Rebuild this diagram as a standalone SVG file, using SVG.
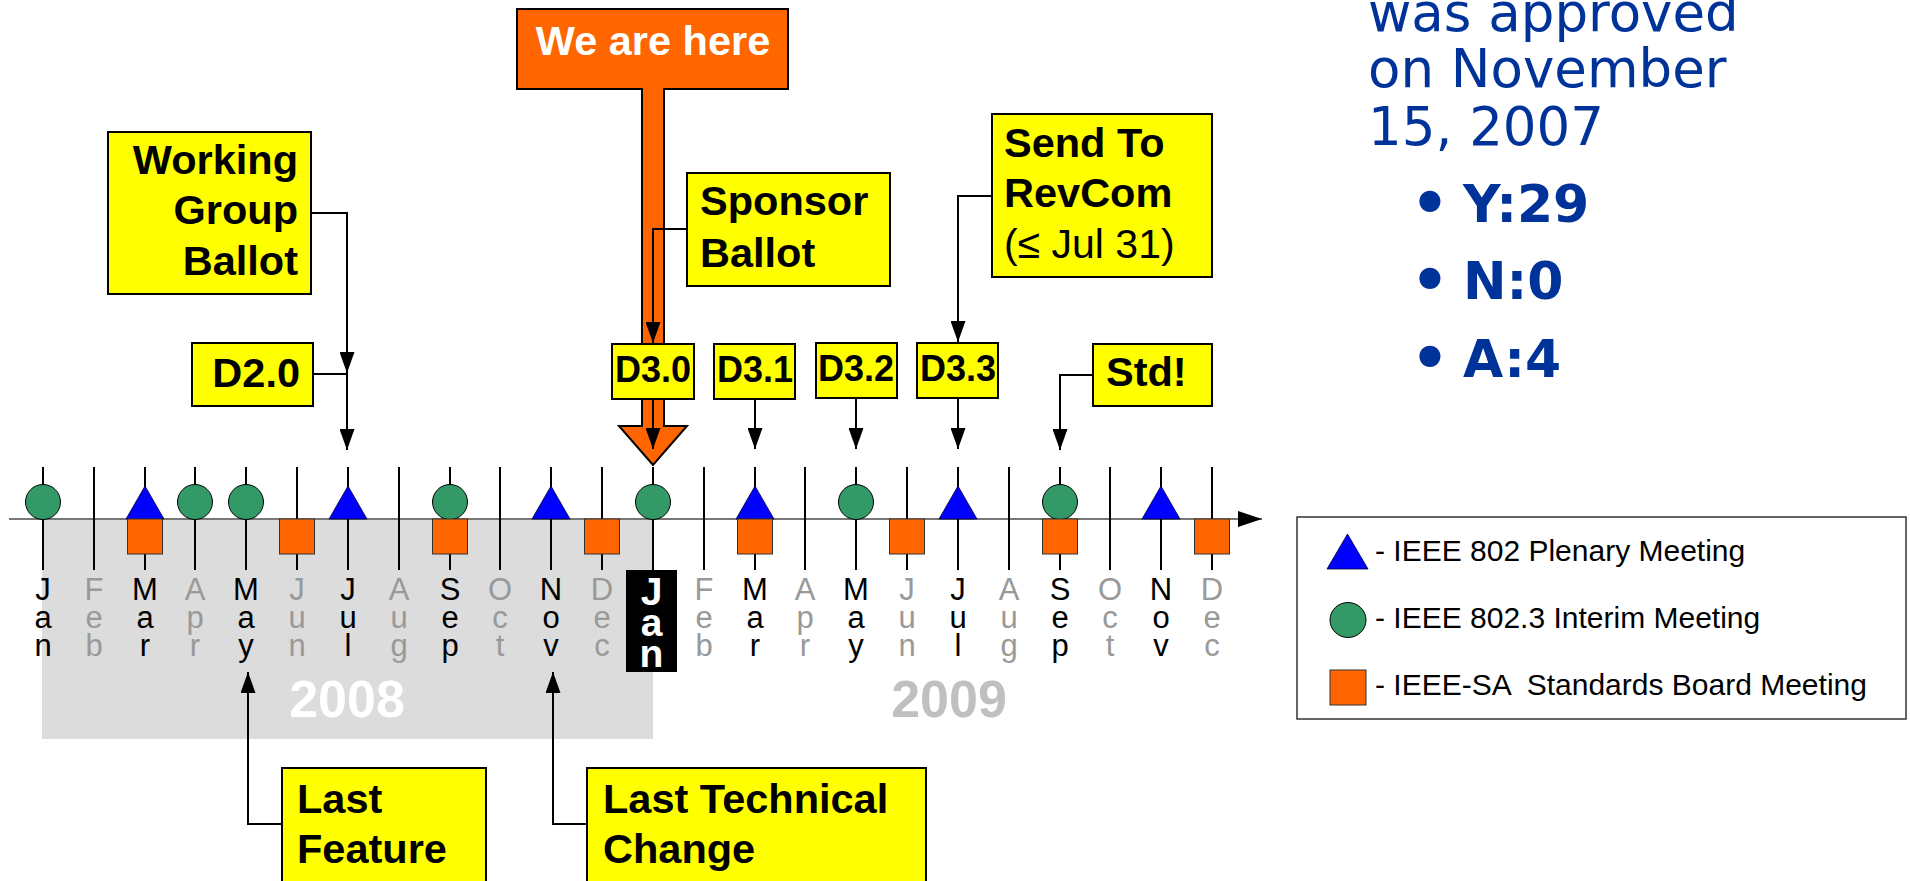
<svg xmlns="http://www.w3.org/2000/svg" width="1910" height="881" viewBox="0 0 1910 881">
<style>
  .box { fill: #FFFF00; stroke: #000; stroke-width: 2; }
  .bt { font-family: "Liberation Sans", Arial, sans-serif; font-weight: bold; font-size: 41.5px; fill: #000; }
  .dt { font-family: "Liberation Sans", Arial, sans-serif; font-weight: bold; font-size: 36px; fill: #000; text-anchor: middle; }
  .rt { font-family: "Liberation Sans", Arial, sans-serif; font-size: 41px; fill: #000; }
  .tick { stroke: #000; stroke-width: 2; }
  .conn { fill: none; stroke: #000; stroke-width: 2; }
  .circ { fill: #339966; stroke: #000; stroke-width: 1; }
  .tri { fill: #0000FF; stroke: #000033; stroke-width: 0.8; }
  .sq { fill: #FF6600; stroke: #333; stroke-width: 1; }
  .mo { font-family: "Liberation Sans", Arial, sans-serif; font-size: 31px; text-anchor: middle; }
  .on { fill: #000; }
  .off { fill: #999999; }
  .yr { font-family: "Liberation Sans", Arial, sans-serif; font-weight: bold; font-size: 52px; text-anchor: middle; }
  .leg { font-family: "Liberation Sans", Arial, sans-serif; font-size: 30px; fill: #000; white-space: pre; }
  .vote { font-family: "DejaVu Sans", Verdana, sans-serif; fill: #003399; }
</style>
<defs>
  <marker id="ah" viewBox="0 0 21 15" refX="21" refY="7.5" markerWidth="21" markerHeight="15" markerUnits="userSpaceOnUse" orient="auto">
    <path d="M0,0 L21,7.5 L0,15 Z" fill="#000"/>
  </marker>
  <marker id="axh" viewBox="0 0 24 16" refX="24" refY="8" markerWidth="24" markerHeight="16" markerUnits="userSpaceOnUse" orient="auto">
    <path d="M0,0 L24,8 L0,16 Z" fill="#000"/>
  </marker>
</defs>

<rect id="year-2008-band" x="42" y="519" width="611" height="220" fill="#DCDCDC"/>

<g id="timeline-axis">
  <line x1="9" y1="519" x2="1262" y2="519" stroke="#777" stroke-width="2" marker-end="url(#axh)"/>
</g>

<g id="ticks">
  <line class="tick" x1="43" y1="467" x2="43" y2="570"/>
  <line class="tick" x1="94" y1="467" x2="94" y2="570"/>
  <line class="tick" x1="145" y1="467" x2="145" y2="570"/>
  <line class="tick" x1="195" y1="467" x2="195" y2="570"/>
  <line class="tick" x1="246" y1="467" x2="246" y2="570"/>
  <line class="tick" x1="297" y1="467" x2="297" y2="570"/>
  <line class="tick" x1="348" y1="467" x2="348" y2="570"/>
  <line class="tick" x1="399" y1="467" x2="399" y2="570"/>
  <line class="tick" x1="450" y1="467" x2="450" y2="570"/>
  <line class="tick" x1="500" y1="467" x2="500" y2="570"/>
  <line class="tick" x1="551" y1="467" x2="551" y2="570"/>
  <line class="tick" x1="602" y1="467" x2="602" y2="570"/>
  <line class="tick" x1="653" y1="467" x2="653" y2="570"/>
  <line class="tick" x1="704" y1="467" x2="704" y2="570"/>
  <line class="tick" x1="755" y1="467" x2="755" y2="570"/>
  <line class="tick" x1="805" y1="467" x2="805" y2="570"/>
  <line class="tick" x1="856" y1="467" x2="856" y2="570"/>
  <line class="tick" x1="907" y1="467" x2="907" y2="570"/>
  <line class="tick" x1="958" y1="467" x2="958" y2="570"/>
  <line class="tick" x1="1009" y1="467" x2="1009" y2="570"/>
  <line class="tick" x1="1060" y1="467" x2="1060" y2="570"/>
  <line class="tick" x1="1110" y1="467" x2="1110" y2="570"/>
  <line class="tick" x1="1161" y1="467" x2="1161" y2="570"/>
  <line class="tick" x1="1212" y1="467" x2="1212" y2="570"/>
</g>

<g id="meeting-markers">
  <circle class="circ" cx="43" cy="502" r="17.5"/>
  <polygon class="tri" points="145,486 164,519 126,519"/>
  <rect class="sq" x="127.5" y="519" width="35" height="35"/>
  <circle class="circ" cx="195" cy="502" r="17.5"/>
  <circle class="circ" cx="246" cy="502" r="17.5"/>
  <rect class="sq" x="279.5" y="519" width="35" height="35"/>
  <polygon class="tri" points="348,486 367,519 329,519"/>
  <circle class="circ" cx="450" cy="502" r="17.5"/>
  <rect class="sq" x="432.5" y="519" width="35" height="35"/>
  <polygon class="tri" points="551,486 570,519 532,519"/>
  <rect class="sq" x="584.5" y="519" width="35" height="35"/>
  <circle class="circ" cx="653" cy="502" r="17.5"/>
  <polygon class="tri" points="755,486 774,519 736,519"/>
  <rect class="sq" x="737.5" y="519" width="35" height="35"/>
  <circle class="circ" cx="856" cy="502" r="17.5"/>
  <rect class="sq" x="889.5" y="519" width="35" height="35"/>
  <polygon class="tri" points="958,486 977,519 939,519"/>
  <circle class="circ" cx="1060" cy="502" r="17.5"/>
  <rect class="sq" x="1042.5" y="519" width="35" height="35"/>
  <polygon class="tri" points="1161,486 1180,519 1142,519"/>
  <rect class="sq" x="1194.5" y="519" width="35" height="35"/>
</g>

<g id="month-labels">
  <text class="mo on"><tspan x="43" y="600">J</tspan><tspan x="43" y="628">a</tspan><tspan x="43" y="656">n</tspan></text>
  <text class="mo off"><tspan x="94" y="600">F</tspan><tspan x="94" y="628">e</tspan><tspan x="94" y="656">b</tspan></text>
  <text class="mo on"><tspan x="145" y="600">M</tspan><tspan x="145" y="628">a</tspan><tspan x="145" y="656">r</tspan></text>
  <text class="mo off"><tspan x="195" y="600">A</tspan><tspan x="195" y="628">p</tspan><tspan x="195" y="656">r</tspan></text>
  <text class="mo on"><tspan x="246" y="600">M</tspan><tspan x="246" y="628">a</tspan><tspan x="246" y="656">y</tspan></text>
  <text class="mo off"><tspan x="297" y="600">J</tspan><tspan x="297" y="628">u</tspan><tspan x="297" y="656">n</tspan></text>
  <text class="mo on"><tspan x="348" y="600">J</tspan><tspan x="348" y="628">u</tspan><tspan x="348" y="656">l</tspan></text>
  <text class="mo off"><tspan x="399" y="600">A</tspan><tspan x="399" y="628">u</tspan><tspan x="399" y="656">g</tspan></text>
  <text class="mo on"><tspan x="450" y="600">S</tspan><tspan x="450" y="628">e</tspan><tspan x="450" y="656">p</tspan></text>
  <text class="mo off"><tspan x="500" y="600">O</tspan><tspan x="500" y="628">c</tspan><tspan x="500" y="656">t</tspan></text>
  <text class="mo on"><tspan x="551" y="600">N</tspan><tspan x="551" y="628">o</tspan><tspan x="551" y="656">v</tspan></text>
  <text class="mo off"><tspan x="602" y="600">D</tspan><tspan x="602" y="628">e</tspan><tspan x="602" y="656">c</tspan></text>
  <rect x="626" y="570" width="51" height="102" fill="#000"/>
  <text class="mo" style="font-weight:bold;font-size:39px" fill="#FFF"><tspan x="651.5" y="605">J</tspan><tspan x="651.5" y="636">a</tspan><tspan x="651.5" y="667">n</tspan></text>
  <text class="mo off"><tspan x="704" y="600">F</tspan><tspan x="704" y="628">e</tspan><tspan x="704" y="656">b</tspan></text>
  <text class="mo on"><tspan x="755" y="600">M</tspan><tspan x="755" y="628">a</tspan><tspan x="755" y="656">r</tspan></text>
  <text class="mo off"><tspan x="805" y="600">A</tspan><tspan x="805" y="628">p</tspan><tspan x="805" y="656">r</tspan></text>
  <text class="mo on"><tspan x="856" y="600">M</tspan><tspan x="856" y="628">a</tspan><tspan x="856" y="656">y</tspan></text>
  <text class="mo off"><tspan x="907" y="600">J</tspan><tspan x="907" y="628">u</tspan><tspan x="907" y="656">n</tspan></text>
  <text class="mo on"><tspan x="958" y="600">J</tspan><tspan x="958" y="628">u</tspan><tspan x="958" y="656">l</tspan></text>
  <text class="mo off"><tspan x="1009" y="600">A</tspan><tspan x="1009" y="628">u</tspan><tspan x="1009" y="656">g</tspan></text>
  <text class="mo on"><tspan x="1060" y="600">S</tspan><tspan x="1060" y="628">e</tspan><tspan x="1060" y="656">p</tspan></text>
  <text class="mo off"><tspan x="1110" y="600">O</tspan><tspan x="1110" y="628">c</tspan><tspan x="1110" y="656">t</tspan></text>
  <text class="mo on"><tspan x="1161" y="600">N</tspan><tspan x="1161" y="628">o</tspan><tspan x="1161" y="656">v</tspan></text>
  <text class="mo off"><tspan x="1212" y="600">D</tspan><tspan x="1212" y="628">e</tspan><tspan x="1212" y="656">c</tspan></text>
</g>

<g id="year-labels">
  <text class="yr" x="347" y="717" fill="#FFFFFF">2008</text>
  <text class="yr" x="949" y="717" fill="#C0C0C0">2009</text>
</g>

<g id="we-are-here">
  <path d="M517,9 H788 V89 H664 V426 H687 L653,465 L619,426 H642 V89 H517 Z" fill="#FF6600" stroke="#000" stroke-width="2" stroke-linejoin="miter"/>
  <text class="bt" x="653" y="55" text-anchor="middle" style="fill:#FFFFFF">We are here</text>
</g>

<g id="working-group-ballot">
  <rect class="box" x="108" y="132" width="203" height="162"/>
  <text class="bt" text-anchor="end"><tspan x="298" y="174">Working</tspan><tspan x="298" y="224">Group</tspan><tspan x="298" y="275">Ballot</tspan></text>
</g>

<g id="d2-0">
  <rect class="box" x="192" y="343" width="121" height="63"/>
  <text class="bt" x="300" y="387" text-anchor="end">D2.0</text>
</g>

<g id="sponsor-ballot">
  <rect class="box" x="687" y="173" width="203" height="113"/>
  <text class="bt"><tspan x="700" y="215">Sponsor</tspan><tspan x="700" y="267">Ballot</tspan></text>
</g>

<g id="send-to-revcom">
  <rect class="box" x="992" y="114" width="220" height="163"/>
  <text class="bt"><tspan x="1004" y="157">Send To</tspan><tspan x="1004" y="207">RevCom</tspan></text>
  <text class="rt" x="1004" y="258">(≤ Jul 31)</text>
</g>

<g id="d3-0">
  <rect class="box" x="612" y="344" width="82" height="55"/>
  <text class="dt" x="653" y="382">D3.0</text>
</g>
<g id="d3-1">
  <rect class="box" x="714" y="344" width="81" height="55"/>
  <text class="dt" x="755" y="382">D3.1</text>
</g>
<g id="d3-2">
  <rect class="box" x="816" y="343" width="81" height="55"/>
  <text class="dt" x="856" y="381">D3.2</text>
</g>
<g id="d3-3">
  <rect class="box" x="917" y="343" width="81" height="55"/>
  <text class="dt" x="958" y="381">D3.3</text>
</g>

<g id="std">
  <rect class="box" x="1093" y="344" width="119" height="62"/>
  <text class="bt" x="1106" y="386">Std!</text>
</g>

<g id="last-feature">
  <rect class="box" x="282" y="768" width="204" height="125"/>
  <text class="bt"><tspan x="297" y="813">Last</tspan><tspan x="297" y="863">Feature</tspan></text>
</g>

<g id="last-technical-change">
  <rect class="box" x="587" y="768" width="339" height="125"/>
  <text class="bt"><tspan x="603" y="813">Last Technical</tspan><tspan x="603" y="863">Change</tspan></text>
</g>

<g id="connectors">
  <path class="conn" d="M311,213 H347 V373" marker-end="url(#ah)"/>
  <path class="conn" d="M313,374 H347 V450" marker-end="url(#ah)"/>
  <path class="conn" d="M687,229 H653 V343" marker-end="url(#ah)"/>
  <path class="conn" d="M653,399 V449" marker-end="url(#ah)"/>
  <path class="conn" d="M755,399 V449" marker-end="url(#ah)"/>
  <path class="conn" d="M856,398 V449" marker-end="url(#ah)"/>
  <path class="conn" d="M958,398 V449" marker-end="url(#ah)"/>
  <path class="conn" d="M992,196 H958 V342" marker-end="url(#ah)"/>
  <path class="conn" d="M1093,375 H1060 V450" marker-end="url(#ah)"/>
  <path class="conn" d="M282,824 H248 V672" marker-end="url(#ah)"/>
  <path class="conn" d="M587,824 H553 V672" marker-end="url(#ah)"/>
</g>

<g id="legend">
  <rect x="1297" y="517" width="609" height="202" fill="#FFF" stroke="#333" stroke-width="1.5"/>
  <polygon class="tri" points="1347.5,534 1368,569 1327,569"/>
  <ellipse class="circ" cx="1348" cy="620" rx="18" ry="17.5"/>
  <rect class="sq" x="1330" y="670" width="36" height="35"/>
  <text class="leg" x="1375" y="561">- IEEE 802 Plenary Meeting</text>
  <text class="leg" x="1375" y="628">- IEEE 802.3 Interim Meeting</text>
  <text class="leg" x="1375" y="695">- IEEE-SA  Standards Board Meeting</text>
</g>

<g id="vote-result">
  <text class="vote" style="font-size:53px"><tspan x="1368" y="31">was approved</tspan><tspan x="1368" y="87">on November</tspan><tspan x="1368" y="145">15, 2007</tspan></text>
  <text class="vote" style="font-size:60px;font-weight:bold" text-anchor="middle"><tspan x="1430" y="224">•</tspan><tspan x="1430" y="301">•</tspan><tspan x="1430" y="379">•</tspan></text>
  <text class="vote" style="font-size:52px;font-weight:bold"><tspan x="1463" y="222">Y:29</tspan><tspan x="1463" y="299">N:0</tspan><tspan x="1463" y="377">A:4</tspan></text>
</g>
</svg>
